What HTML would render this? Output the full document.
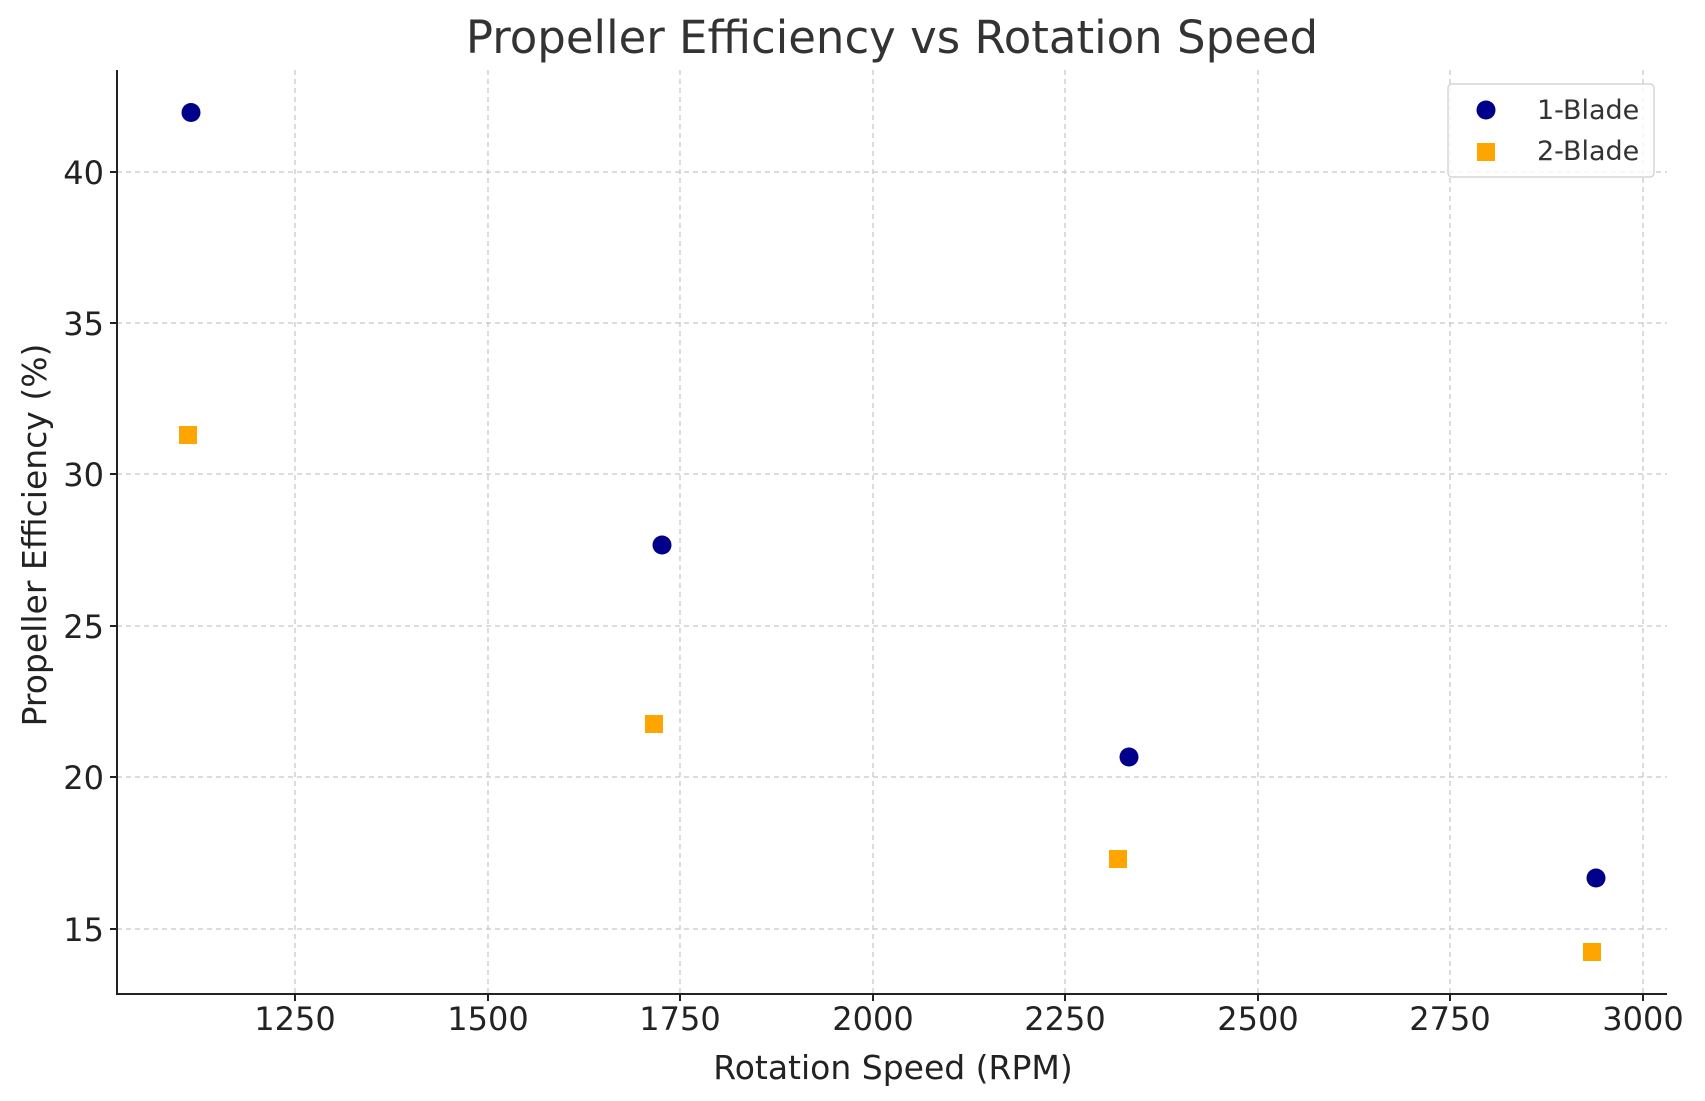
<!DOCTYPE html>
<html><head><meta charset="utf-8"><style>body{margin:0;background:#fff}svg{display:block}</style></head><body>
<svg width="1705" height="1101" xmlns="http://www.w3.org/2000/svg" font-family="DejaVu Sans, Liberation Sans, sans-serif">
<rect width="1705" height="1101" fill="#fff"/>
<g stroke="#c8c8c8" stroke-width="1.3" stroke-dasharray="5,4">
<line x1="295" y1="70" x2="295" y2="994"/><line x1="488" y1="70" x2="488" y2="994"/><line x1="680" y1="70" x2="680" y2="994"/><line x1="873" y1="70" x2="873" y2="994"/><line x1="1065" y1="70" x2="1065" y2="994"/><line x1="1258" y1="70" x2="1258" y2="994"/><line x1="1450" y1="70" x2="1450" y2="994"/><line x1="1643" y1="70" x2="1643" y2="994"/>
<line x1="117" y1="172" x2="1667" y2="172"/><line x1="117" y1="323" x2="1667" y2="323"/><line x1="117" y1="474" x2="1667" y2="474"/><line x1="117" y1="626" x2="1667" y2="626"/><line x1="117" y1="777" x2="1667" y2="777"/><line x1="117" y1="929" x2="1667" y2="929"/>
</g>
<g stroke="#222" stroke-width="2">
<line x1="117" y1="70" x2="117" y2="995"/><line x1="116" y1="994" x2="1667" y2="994"/>
<line x1="110" y1="172" x2="117" y2="172"/><line x1="110" y1="323" x2="117" y2="323"/><line x1="110" y1="474" x2="117" y2="474"/><line x1="110" y1="626" x2="117" y2="626"/><line x1="110" y1="777" x2="117" y2="777"/><line x1="110" y1="929" x2="117" y2="929"/>
<line x1="295" y1="994" x2="295" y2="1001"/><line x1="488" y1="994" x2="488" y2="1001"/><line x1="680" y1="994" x2="680" y2="1001"/><line x1="873" y1="994" x2="873" y2="1001"/><line x1="1065" y1="994" x2="1065" y2="1001"/><line x1="1258" y1="994" x2="1258" y2="1001"/><line x1="1450" y1="994" x2="1450" y2="1001"/><line x1="1643" y1="994" x2="1643" y2="1001"/>
</g>
<g font-size="32" fill="#222" text-anchor="end">
<text x="104" y="184">40</text><text x="104" y="335">35</text><text x="104" y="486">30</text><text x="104" y="638">25</text><text x="104" y="789">20</text><text x="104" y="941">15</text>
</g>
<g font-size="32" fill="#222" text-anchor="middle">
<text x="295" y="1030">1250</text><text x="488" y="1030">1500</text><text x="680" y="1030">1750</text><text x="873" y="1030">2000</text><text x="1065" y="1030">2250</text><text x="1258" y="1030">2500</text><text x="1450" y="1030">2750</text><text x="1643" y="1030">3000</text>
</g>
<text x="893" y="1079" font-size="33" fill="#222" text-anchor="middle">Rotation Speed (RPM)</text>
<text transform="translate(46,535) rotate(-90)" font-size="33" fill="#222" text-anchor="middle">Propeller Efficiency (%)</text>
<text x="892" y="53" font-size="45" fill="#333" text-anchor="middle">Propeller Efficiency vs Rotation Speed</text>
<g fill="#00008b">
<circle cx="191" cy="112.5" r="9.5"/><circle cx="662" cy="545" r="9.5"/><circle cx="1129" cy="757" r="9.5"/><circle cx="1596" cy="878" r="9.5"/>
</g>
<g fill="#ffa500">
<rect x="179" y="426" width="18" height="18"/><rect x="645" y="715" width="18" height="18"/><rect x="1109" y="850" width="18" height="18"/><rect x="1583" y="943" width="18" height="18"/>
</g>
<rect x="1448" y="84" width="206" height="93" rx="4" fill="#fff" fill-opacity="0.8" stroke="#d6d6d6" stroke-width="1.5"/>
<circle cx="1486" cy="110" r="9.5" fill="#00008b"/>
<rect x="1477" y="143" width="18" height="18" fill="#ffa500"/>
<g font-size="27" fill="#333"><text x="1537" y="119">1-Blade</text><text x="1537" y="160">2-Blade</text></g>
</svg>
</body></html>
